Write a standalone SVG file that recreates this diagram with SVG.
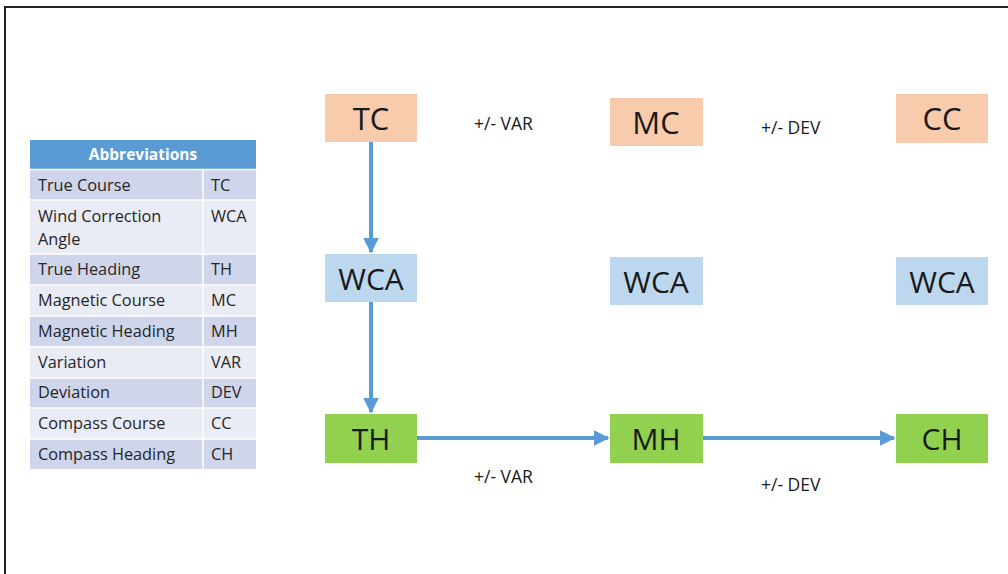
<svg xmlns="http://www.w3.org/2000/svg" width="1008" height="574" viewBox="0 0 1008 574">
<defs>
<style>
.n{font-family:"Open Sans","Liberation Sans",sans-serif;font-size:30px;fill:#1a1a1a;text-anchor:middle;dominant-baseline:central}
.lb{font-family:"Open Sans","Liberation Sans",sans-serif;font-size:17.5px;fill:#1a1a1a}
.t{font-family:"Open Sans","Liberation Sans",sans-serif;font-size:16.3px;fill:#262626}
.h{font-family:"Open Sans","Liberation Sans",sans-serif;font-size:15.5px;font-weight:bold;fill:#fff;text-anchor:middle}
.or{fill:#f8cbad}.bl{fill:#bdd7ee}.gr{fill:#92d050}
.c{stroke:#5b9bd5;stroke-width:4;fill:none}
.d{fill:#cfd5ea}.l{fill:#e9ebf5}
</style>
<marker id="ah" viewBox="0 0 10 10" refX="9" refY="5" markerWidth="4" markerHeight="4" orient="auto" markerUnits="strokeWidth">
<path d="M0,0 L10,5 L0,10 z" fill="#5b9bd5"/>
</marker>
</defs>
<rect width="1008" height="574" fill="#fff"/>
<path d="M5,574 V7 H1008" stroke="#222" stroke-width="2" fill="none"/>
<g id="table">
<rect x="30" y="140" width="226" height="29" fill="#5b9bd5"/>
<text class="h" x="143" y="160">Abbreviations</text>
<rect class="d" x="30" y="170" width="226" height="30"/>
<rect class="l" x="30" y="200" width="226" height="54"/>
<rect class="d" x="30" y="254" width="226" height="31"/>
<rect class="l" x="30" y="285" width="226" height="31"/>
<rect class="d" x="30" y="316" width="226" height="31"/>
<rect class="l" x="30" y="347" width="226" height="31"/>
<rect class="d" x="30" y="378" width="226" height="30"/>
<rect class="l" x="30" y="408" width="226" height="31"/>
<rect class="d" x="30" y="439" width="226" height="30"/>
<path d="M203,170 V469 M30,169.5 H256 M30,200 H256 M30,254 H256 M30,285 H256 M30,316 H256 M30,347 H256 M30,378 H256 M30,408 H256 M30,439 H256" stroke="#fff" stroke-width="1.5"/>
<text class="t" x="38" y="191">True Course</text><text class="t" x="211" y="191">TC</text>
<text class="t" x="38" y="222">Wind Correction</text><text class="t" x="211" y="222">WCA</text>
<text class="t" x="38" y="245">Angle</text>
<text class="t" x="38" y="275">True Heading</text><text class="t" x="211" y="275">TH</text>
<text class="t" x="38" y="306">Magnetic Course</text><text class="t" x="211" y="306">MC</text>
<text class="t" x="38" y="337">Magnetic Heading</text><text class="t" x="211" y="337">MH</text>
<text class="t" x="38" y="368">Variation</text><text class="t" x="211" y="368">VAR</text>
<text class="t" x="38" y="398">Deviation</text><text class="t" x="211" y="398">DEV</text>
<text class="t" x="38" y="429">Compass Course</text><text class="t" x="211" y="429">CC</text>
<text class="t" x="38" y="460">Compass Heading</text><text class="t" x="211" y="460">CH</text>
</g>
<g id="connectors">
<line class="c" x1="371" y1="142" x2="371" y2="252" marker-end="url(#ah)"/>
<line class="c" x1="371" y1="302" x2="371" y2="412" marker-end="url(#ah)"/>
<line class="c" x1="417" y1="438" x2="608" y2="438" marker-end="url(#ah)"/>
<line class="c" x1="703" y1="438" x2="894" y2="438" marker-end="url(#ah)"/>
</g>
<g id="TC"><rect class="or" x="325" y="94" width="92" height="48"/><text class="n" x="371" y="118" style="font-size:31px">TC</text></g>
<g id="MC"><rect class="or" x="610" y="98" width="93" height="48"/><text class="n" x="656" y="122" style="font-size:31px">MC</text></g>
<g id="CC"><rect class="or" x="896" y="94" width="92" height="49"/><text class="n" x="942" y="118" style="font-size:31px">CC</text></g>
<g id="WCA1"><rect class="bl" x="325" y="254" width="92" height="48"/><text class="n" x="371" y="278">WCA</text></g>
<g id="WCA2"><rect class="bl" x="610" y="257" width="93" height="48"/><text class="n" x="656" y="281">WCA</text></g>
<g id="WCA3"><rect class="bl" x="896" y="257" width="92" height="48"/><text class="n" x="942" y="281">WCA</text></g>
<g id="TH"><rect class="gr" x="325" y="414" width="92" height="49"/><text class="n" x="371" y="438">TH</text></g>
<g id="MH"><rect class="gr" x="610" y="414" width="93" height="49"/><text class="n" x="656" y="438">MH</text></g>
<g id="CH"><rect class="gr" x="896" y="414" width="92" height="49"/><text class="n" x="942" y="438">CH</text></g>
<g id="labels">
<text class="lb" x="474" y="130">+/- VAR</text>
<text class="lb" x="761" y="134">+/- DEV</text>
<text class="lb" x="474" y="483">+/- VAR</text>
<text class="lb" x="761" y="491">+/- DEV</text>
</g>
</svg>
